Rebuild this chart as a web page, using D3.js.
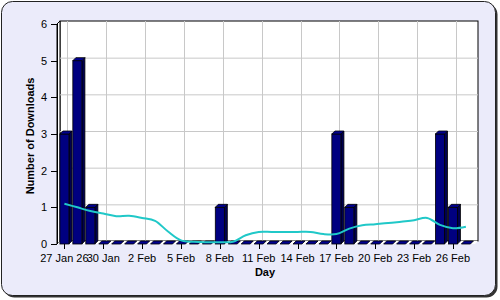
<!DOCTYPE html>
<html><head><meta charset="utf-8">
<script src="https://cdnjs.cloudflare.com/ajax/libs/d3/7.8.5/d3.min.js"></script>
<style>html,body{margin:0;padding:0;background:#fff;}svg{display:block;font-family:"Liberation Sans",Arial,sans-serif;}</style>
</head><body><svg id="c" width="500" height="300"></svg>
<script>
const days = ["27 Jan","28 Jan","29 Jan","30 Jan","31 Jan","1 Feb","2 Feb","3 Feb","4 Feb","5 Feb","6 Feb","7 Feb","8 Feb","9 Feb","10 Feb","11 Feb","12 Feb","13 Feb","14 Feb","15 Feb","16 Feb","17 Feb","18 Feb","19 Feb","20 Feb","21 Feb","22 Feb","23 Feb","24 Feb","25 Feb","26 Feb","27 Feb"];
const downloads = [3,5,1,0,0,0,0,0,0,0,0,0,1,0,0,0,0,0,0,0,0,3,1,0,0,0,0,0,0,3,1,0];
const trend = [1.10,1.00,0.90,0.83,0.76,0.77,0.71,0.63,0.34,0.10,0.06,0.05,0.05,0.06,0.24,0.33,0.33,0.33,0.33,0.33,0.27,0.27,0.42,0.51,0.54,0.57,0.61,0.65,0.71,0.52,0.43,0.47];
const tickDays = ["27 Jan","30 Jan","2 Feb","5 Feb","8 Feb","11 Feb","14 Feb","17 Feb","20 Feb","23 Feb","26 Feb"];
const tickLabels = ["27 Jan 26","30 Jan","2 Feb","5 Feb","8 Feb","11 Feb","14 Feb","17 Feb","20 Feb","23 Feb","26 Feb"];
const yTicks = [0,1,2,3,4,5,6];

const svg = d3.select("#c");
const D = 3; // 3D depth
const x = d3.scaleBand().domain(days).range([56, 474.3]).padding(0.3);
const y = d3.scaleLinear().domain([0,6]).range([244, 24]);
const cx = d => x(d) + x.bandwidth()/2;

// outer frame
svg.append("rect").attr("x",3.5).attr("y",3.5).attr("width",494).attr("height",294).attr("rx",11).attr("fill","#333");
svg.append("rect").attr("x",1.5).attr("y",1.5).attr("width",494).attr("height",294).attr("rx",11).attr("fill","#ebebfa").attr("stroke","#222").attr("stroke-width",1);

const L = 57, R = 475, T = y(6), B = y(0);
// back wall
svg.append("rect").attr("x",L+D).attr("y",T-D).attr("width",R-L).attr("height",B-T).attr("fill","#fff").attr("stroke","#000");
// left wall
svg.append("path").attr("d",`M${L},${T}L${L+D},${T-D}L${L+D},${B-D}L${L},${B}Z`).attr("fill","#fff").attr("stroke","#000");
// floor
svg.append("path").attr("d",`M${L},${B}L${L+D},${B-D}L${R+D},${B-D}L${R},${B}Z`).attr("fill","#fff").attr("stroke","none");

// gridlines on back wall
const g = svg.append("g");
g.selectAll(".hg").data(yTicks.filter(v=>v>0 && v<6)).join("line")
  .attr("x1",L+D).attr("x2",R+D).attr("y1",d=>y(d)-D+0.5).attr("y2",d=>y(d)-D+0.5).attr("stroke","#c8c8c8");
g.selectAll(".vg").data(tickDays).join("line")
  .attr("x1",d=>Math.round(cx(d))+D+0.5).attr("x2",d=>Math.round(cx(d))+D+0.5).attr("y1",T-D).attr("y2",B-D).attr("stroke","#c8c8c8");

// bars (3D)
const bars = svg.append("g").selectAll("g").data(days.map((d,i)=>({d,v:downloads[i]}))).join("g");
bars.each(function(p){
  const sel = d3.select(this);
  const x0 = x(p.d), w = x.bandwidth(), yt = y(p.v), y0 = y(0);
  if (p.v > 0) {
    sel.append("path").attr("d",`M${x0+w},${yt}L${x0+w+D},${yt-D}L${x0+w+D},${y0-D}L${x0+w},${y0}Z`).attr("fill","#000050").attr("stroke","#000").attr("stroke-width",0.8);
    sel.append("rect").attr("x",x0).attr("y",yt).attr("width",w).attr("height",y0-yt).attr("fill","#000080").attr("stroke","#000").attr("stroke-width",0.8);
  }
  sel.append("path").attr("d",`M${x0},${yt}L${x0+D},${yt-D}L${x0+w+D},${yt-D}L${x0+w},${yt}Z`).attr("fill","#000090").attr("stroke","#000").attr("stroke-width",0.8);
});

// trend line
const line = d3.line().x((d,i)=>cx(days[i])).y(d=>y(d)).curve(d3.curveCatmullRom.alpha(0.5));
svg.append("path").datum(trend).attr("d",line).attr("fill","none").attr("stroke","#20c8c8").attr("stroke-width",2);

// y axis
svg.append("line").attr("x1",L+0.5).attr("x2",L+0.5).attr("y1",T).attr("y2",B).attr("stroke","#000");
const ya = svg.append("g");
ya.selectAll("line").data(yTicks).join("line").attr("x1",51).attr("x2",L).attr("y1",d=>Math.round(y(d))+0.5).attr("y2",d=>Math.round(y(d))+0.5).attr("stroke","#000");
ya.selectAll("text").data(yTicks).join("text").attr("x",47).attr("y",d=>y(d)+4).attr("text-anchor","end").attr("font-size",11).text(d=>d);

// x axis
const xa = svg.append("g");
xa.selectAll("line").data(tickDays).join("line").attr("x1",d=>Math.round(cx(d))+0.5).attr("x2",d=>Math.round(cx(d))+0.5).attr("y1",B).attr("y2",B+5).attr("stroke","#000");
xa.selectAll("text").data(tickDays).join("text").attr("x",d=>cx(d)).attr("y",262).attr("text-anchor","middle").attr("font-size",11).text((d,i)=>tickLabels[i]);

// titles
svg.append("text").attr("x",265).attr("y",276).attr("text-anchor","middle").attr("font-size",11).attr("font-weight","bold").text("Day");
svg.append("text").attr("transform","translate(34,136) rotate(-90)").attr("text-anchor","middle").attr("font-size",11).attr("font-weight","bold").text("Number of Downloads");
</script></body></html>
